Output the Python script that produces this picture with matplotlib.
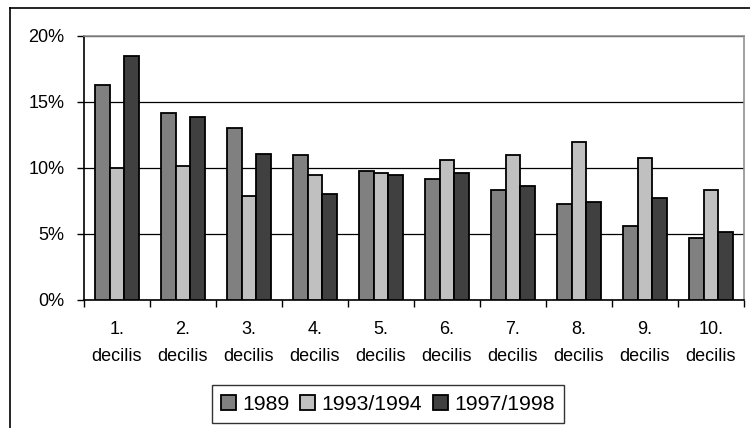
import numpy as np
import matplotlib
matplotlib.use("Agg")
import matplotlib.pyplot as plt
from matplotlib.lines import Line2D
from matplotlib.ticker import FixedLocator, PercentFormatter

plt.rcParams['font.family'] = ['Liberation Sans', 'DejaVu Sans']

categories = ['1.\ndecilis', '2.\ndecilis', '3.\ndecilis', '4.\ndecilis', '5.\ndecilis',
              '6.\ndecilis', '7.\ndecilis', '8.\ndecilis', '9.\ndecilis', '10.\ndecilis']
series_names = ['1989', '1993/1994', '1997/1998']
v1989 = [16.3, 14.2, 13.0, 11.0, 9.8, 9.2, 8.3, 7.25, 5.6, 4.7]
v1993 = [10.0, 10.15, 7.85, 9.5, 9.65, 10.6, 11.0, 11.95, 10.75, 8.3]
v1997 = [18.45, 13.9, 11.05, 8.0, 9.5, 9.65, 8.6, 7.4, 7.7, 5.15]
colors = ['#808080', '#c0c0c0', '#404040']

fig = plt.figure(figsize=(7.5, 4.28), dpi=100)
ax = fig.add_axes([84 / 750, 1 - 300 / 428, 660 / 750, 264 / 428])

x = np.arange(len(categories))
w = 0.223
for i, (vals, name) in enumerate(zip([v1989, v1993, v1997], series_names)):
    ax.bar(x + (i - 1) * w, vals, width=w, color=colors[i], edgecolor='black',
           linewidth=1.3, label=name, zorder=3)

ax.set_xlim(-0.5, len(categories) - 0.5)
ax.set_ylim(0, 20)
ax.set_yticks([0, 5, 10, 15, 20])
ax.yaxis.set_major_formatter(PercentFormatter(decimals=0))
ax.yaxis.grid(True, color='black', linewidth=0.9, zorder=1)

# ticks at group boundaries, labels at group centres
ax.xaxis.set_major_locator(FixedLocator(np.arange(-0.5, len(categories))))
ax.xaxis.set_minor_locator(FixedLocator(x))
ax.set_xticklabels([])
ax.set_xticklabels(categories, minor=True, linespacing=1.75)
ax.tick_params(axis='x', which='major', direction='out', length=5, width=1, color='black')
ax.tick_params(axis='x', which='minor', length=0, pad=15, labelsize=13)
ax.tick_params(axis='y', direction='out', length=5, width=1, pad=9, labelsize=13)

for side in ['top', 'right']:
    ax.spines[side].set_color('#909090')
    ax.spines[side].set_linewidth(1.2)
for side in ['left', 'bottom']:
    ax.spines[side].set_color('black')
    ax.spines[side].set_linewidth(1.2)

leg = fig.legend(loc='center', bbox_to_anchor=(388 / 750, 1 - 404 / 428), ncol=3,
                 fontsize=15.3, frameon=True, fancybox=False, edgecolor='black',
                 handlelength=0.7, handleheight=0.7, handletextpad=0.3,
                 columnspacing=0.5, borderpad=0.45, borderaxespad=0)
leg.get_frame().set_linewidth(1.0)

# outer chart frame (left and top edges visible)
fig.add_artist(Line2D([10 / 750, 10 / 750], [0, 1 - 8 / 428], color='black', linewidth=1.2))
fig.add_artist(Line2D([10 / 750, 1], [1 - 8 / 428, 1 - 8 / 428], color='black', linewidth=1.2))

fig.savefig('out.png', dpi=100)
